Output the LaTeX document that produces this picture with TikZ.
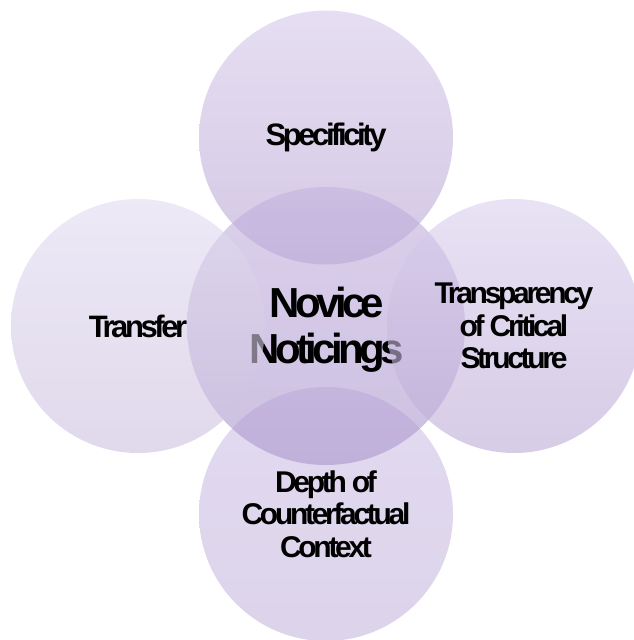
\documentclass[tikz,border=0pt]{standalone}
\usepackage{fontspec}
\setmainfont{Liberation Sans}[LetterSpace=-11]
\definecolor{topA}{RGB}{213,200,233}
\definecolor{topB}{RGB}{183,163,210}
\definecolor{leftA}{RGB}{225,218,240}
\definecolor{leftB}{RGB}{203,192,223}
\definecolor{rightA}{RGB}{217,207,237}
\definecolor{rightB}{RGB}{187,170,213}
\definecolor{botA}{RGB}{207,193,230}
\definecolor{botB}{RGB}{197,183,220}
\definecolor{cenA}{RGB}{195,177,222}
\definecolor{cenB}{RGB}{170,150,205}
\tikzset{
  bubble/.style={circle, draw=none, minimum size=254pt, inner sep=0pt,
    fill opacity=0.6, text opacity=1, align=center, text=black,
    font=\fontsize{31}{33}\selectfont\bfseries},
  smalltext/.style={font=\fontsize{30}{32.5}\selectfont\bfseries},
  centerbubble/.style={bubble, minimum size=278pt},
  centertext/.style={align=center, text=black, inner sep=0pt,
    font=\fontsize{42}{46}\selectfont\bfseries}
}
\begin{document}
\begin{tikzpicture}[x=1pt,y=-1pt]
\useasboundingbox (0,0) rectangle (634,640);
\clip (0,0) rectangle (634,640);
\node[bubble, top color=topA, bottom color=topB] (spec) at (326,137.5) {Specificity};
\node[bubble, smalltext, top color=botA, bottom color=botB] (depth) at (326,514) {Depth of\\Counterfactual\\Context};
\node[centerbubble, top color=cenA, bottom color=cenB] (novice) at (326,326) {};
\node[centertext] (novicetext) at (327,330) {Novice\\Noticings};
\node[bubble, top color=leftA, bottom color=leftB] (transfer) at (138,326) {Transfer};
\node[bubble, smalltext, top color=rightA, bottom color=rightB] (transp) at (514,326) {Transparency\\of Critical\\Structure};
\end{tikzpicture}
\end{document}
